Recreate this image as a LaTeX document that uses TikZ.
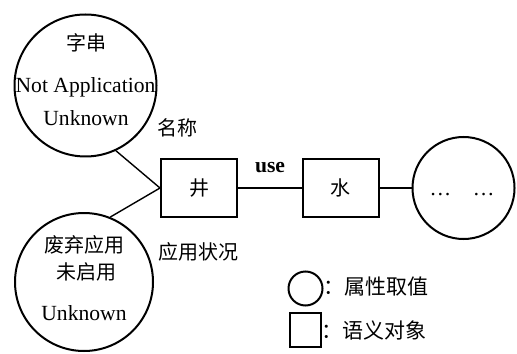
\documentclass[tikz,border=0pt]{standalone}
\usepackage{fontspec}
\setmainfont{Liberation Serif}
\newfontfamily\cjk{Noto Sans CJK SC}
\usetikzlibrary{shapes,arrows}
\tikzstyle{val} = [circle, draw=black, line width=1pt, inner sep=0pt]
\tikzstyle{obj} = [rectangle, draw=black, line width=1pt, minimum width=38pt, minimum height=29pt, text centered, font=\cjk\fontsize{10}{12}\selectfont]
\tikzstyle{txt} = [inner sep=0pt, font=\fontsize{10.8}{12}\selectfont]
\tikzstyle{zh} = [inner sep=0pt, font=\cjk\fontsize{10}{12}\selectfont]
\tikzstyle{link} = [line width=0.7pt]

\begin{document}
\begin{tikzpicture}[x=0.5pt,y=0.5pt,node distance=70.75pt]
		\useasboundingbox (0,0) rectangle (517,353);
		\node[val,minimum size=71pt] at (85.5,267.5)(top){};
		\node[zh] at (86,310)(top1){字串};
		\node[txt] at (85.5,266)(top2){Not Application};
		\node[txt] at (86,235)(top3){Unknown};
		\node[zh] at (177,225)(name){名称};
		\node[obj] at (199,165)(jing){井};
		\node[obj,right of=jing](shui){水};
		\node[val,minimum size=51pt,right of=shui,xshift=-9.25pt](more){};
		\node[txt] at (462,158)(dots){\ldots\quad\ldots};
		\node[txt] at (270,185)(use){\textbf{use}};
		\node[val,minimum size=69pt] at (84,71)(bot){};
		\node[zh] at (84,108)(bot1){废弃应用};
		\node[zh] at (86,81)(bot2){未启用};
		\node[txt] at (84,40)(bot3){Unknown};
		\node[zh] at (198,101)(state){应用状况};
		% legend
		\node[val,minimum size=17pt] at (305.5,64.5)(lc){};
		\node[zh,anchor=west,font=\cjk\fontsize{10.5}{12}\selectfont] at (323,66)(lct){：属性取值};
		\node[rectangle,draw=black,line width=1pt,minimum width=15.5pt,minimum height=17pt] at (305.5,23)(lr){};
		\node[zh,anchor=west,font=\cjk\fontsize{10.5}{12}\selectfont] at (321,23)(lrt){：语义对象};
		
		\draw[link] (top.-65)--(jing.west)--(bot.68);
		\draw[link] (jing)--(shui)--(more);
		\end{tikzpicture}
\end{document}
